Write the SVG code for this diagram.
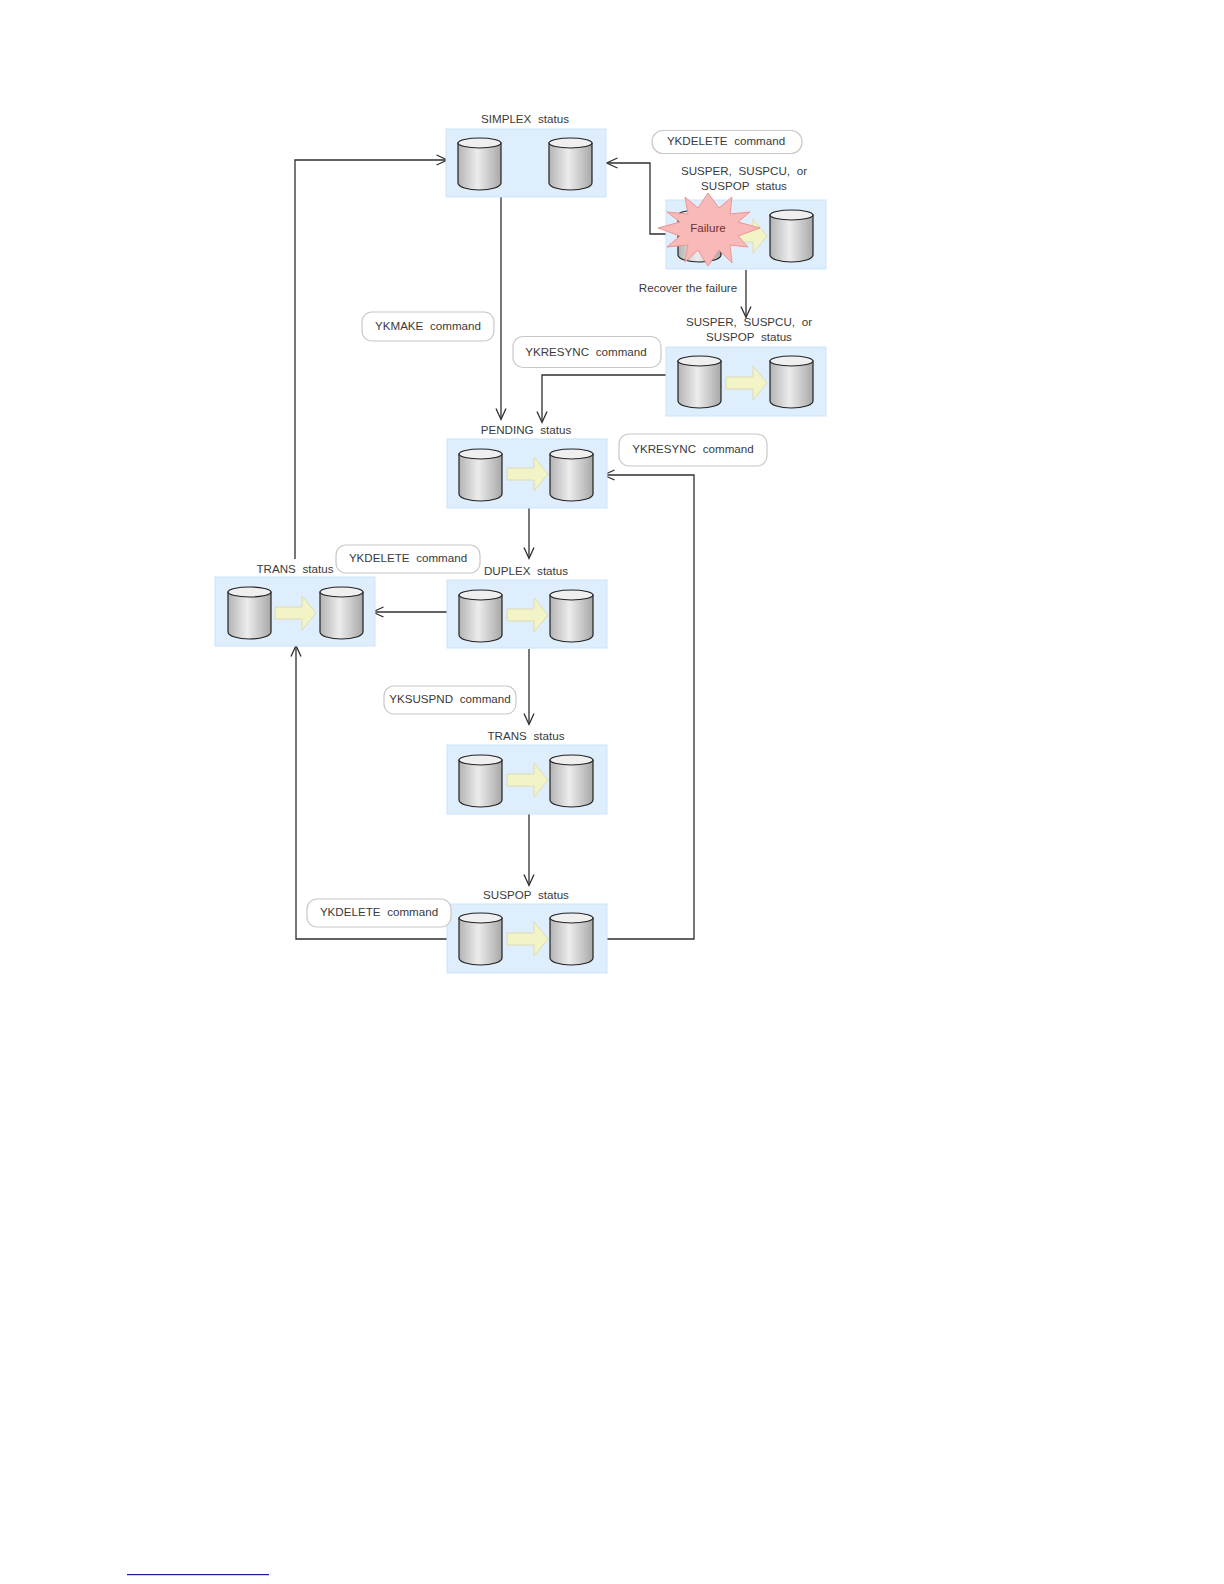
<svg xmlns="http://www.w3.org/2000/svg" width="1224" height="1584" viewBox="0 0 1224 1584">
<style>
text{font-family:"Liberation Sans",Arial,sans-serif;font-size:11.600px;fill:#3a3a3a;text-anchor:middle;word-spacing:3.500px}
.box{fill:#dfeefd;stroke:#cce4fa;stroke-width:1}
.cmd{fill:#fff;stroke:#c8c8c8;stroke-width:1.2}
.cn{fill:none;stroke:#2f2f2f;stroke-width:1.3;marker-end:url(#ah)}
.cb{fill:url(#cg);stroke:#222;stroke-width:1.2}
.ct{fill:#efefef;stroke:#222;stroke-width:1.2}
.ar{fill:#f3f3c8;stroke:#dcdcb0;stroke-width:1}
</style>
<defs>
<linearGradient id="cg" x1="0" x2="1" y1="0" y2="0"><stop offset="0" stop-color="#b4b4b4"/><stop offset=".45" stop-color="#ececec"/><stop offset="1" stop-color="#a8a8a8"/></linearGradient>
<marker id="ah" markerUnits="userSpaceOnUse" markerWidth="14" markerHeight="14" refX="11.500" refY="6" orient="auto"><path d="M1 1L12 6L1 11" fill="none" stroke="#2f2f2f" stroke-width="1.300"/></marker>
<g id="cyl"><path class="cb" d="M0 6V46C0 50 10 53 21.500 53S43 50 43 46V6Z"/><ellipse class="ct" cx="21.500" cy="6" rx="21.500" ry="5"/></g>
<path id="fl" class="ar" d="M0 11H27V0L41 17L27 34V23H0Z"/>
</defs>
<g id="connectors">
<path class="cn" d="M295 559V160H447"/>
<path class="cn" d="M666 234H650V163H607"/>
<path class="cn" d="M501 197V419"/>
<path class="cn" d="M746 270V317"/>
<path class="cn" d="M666 375H542V422"/>
<path class="cn" d="M529 508V558"/>
<path class="cn" d="M447 612H373"/>
<path class="cn" d="M529 649V724"/>
<path class="cn" d="M529 814V885"/>
<path class="cn" d="M447 939H296V646"/>
<path class="cn" d="M607 939H694V475H604"/>
</g>
<g id="simplex"><rect class="box" x="446" y="129" width="160" height="68"/><use href="#cyl" x="458" y="137"/><use href="#cyl" x="549" y="137"/><text x="525" y="123">SIMPLEX status</text></g>
<g id="cmd-delete-1"><rect class="cmd" x="652" y="130.500" width="150" height="23" rx="11"/><text x="726" y="145">YKDELETE command</text></g>
<g id="susper-1"><rect class="box" x="666" y="200" width="160" height="69"/><use href="#cyl" x="678" y="209"/><use href="#fl" x="726" y="219"/><use href="#cyl" x="770" y="209"/><text x="744" y="175">SUSPER, SUSPCU, or</text><text x="744" y="190">SUSPOP status</text></g>
<g id="failure"><path d="M658 228L680 222L667 212L688 214L685 197L698 208L708 193L719 208L732 197L730 214L750 212L738 222L760 228L738 236L748 247L730 245L732 263L719 250L708 266L698 250L685 262L688 245L667 247L680 236Z" fill="#f9b9b9" stroke="#ec9494" stroke-width="1"/><text x="708" y="232" style="fill:#703030">Failure</text></g>
<text x="688" y="292" style="word-spacing:0.500px">Recover the failure</text>
<g id="susper-2"><rect class="box" x="666" y="347" width="160" height="69"/><use href="#cyl" x="678" y="355"/><use href="#fl" x="726" y="366"/><use href="#cyl" x="770" y="355"/><text x="749" y="326">SUSPER, SUSPCU, or</text><text x="749" y="341">SUSPOP status</text></g>
<g id="cmd-make"><rect class="cmd" x="362" y="312" width="132" height="29" rx="10"/><text x="428" y="330">YKMAKE command</text></g>
<g id="cmd-resync-1"><rect class="cmd" x="513" y="336.500" width="148" height="31" rx="10"/><text x="586" y="356">YKRESYNC command</text></g>
<g id="pending"><rect class="box" x="447" y="439" width="160" height="69"/><use href="#cyl" x="459" y="448"/><use href="#fl" x="507" y="457"/><use href="#cyl" x="550" y="448"/><text x="526" y="434">PENDING status</text></g>
<g id="cmd-resync-2"><rect class="cmd" x="619" y="434" width="148" height="32" rx="10"/><text x="693" y="453">YKRESYNC command</text></g>
<g id="cmd-delete-2"><rect class="cmd" x="336" y="545" width="144" height="28" rx="10"/><text x="408" y="562">YKDELETE command</text></g>
<g id="trans-left"><rect class="box" x="215" y="577" width="160" height="69"/><use href="#cyl" x="228" y="586"/><use href="#fl" x="275" y="596"/><use href="#cyl" x="320" y="586"/><text x="295" y="573">TRANS status</text></g>
<g id="duplex"><rect class="box" x="447" y="580" width="160" height="68"/><use href="#cyl" x="459" y="589"/><use href="#fl" x="507" y="598"/><use href="#cyl" x="550" y="589"/><text x="526" y="575">DUPLEX status</text></g>
<g id="cmd-suspnd"><rect class="cmd" x="384" y="686" width="132" height="28" rx="10"/><text x="450" y="703">YKSUSPND command</text></g>
<g id="trans-mid"><rect class="box" x="447" y="745" width="160" height="69"/><use href="#cyl" x="459" y="754"/><use href="#fl" x="507" y="763"/><use href="#cyl" x="550" y="754"/><text x="526" y="740">TRANS status</text></g>
<g id="suspop"><rect class="box" x="447" y="904" width="160" height="69"/><use href="#cyl" x="459" y="912"/><use href="#fl" x="507" y="922"/><use href="#cyl" x="550" y="912"/><text x="526" y="899">SUSPOP status</text></g>
<g id="cmd-delete-3"><rect class="cmd" x="307" y="899" width="144" height="28" rx="10"/><text x="379" y="916">YKDELETE command</text></g>
<rect x="127" y="1574" width="142" height="1.200" fill="#1a1a8c"/>
</svg>
